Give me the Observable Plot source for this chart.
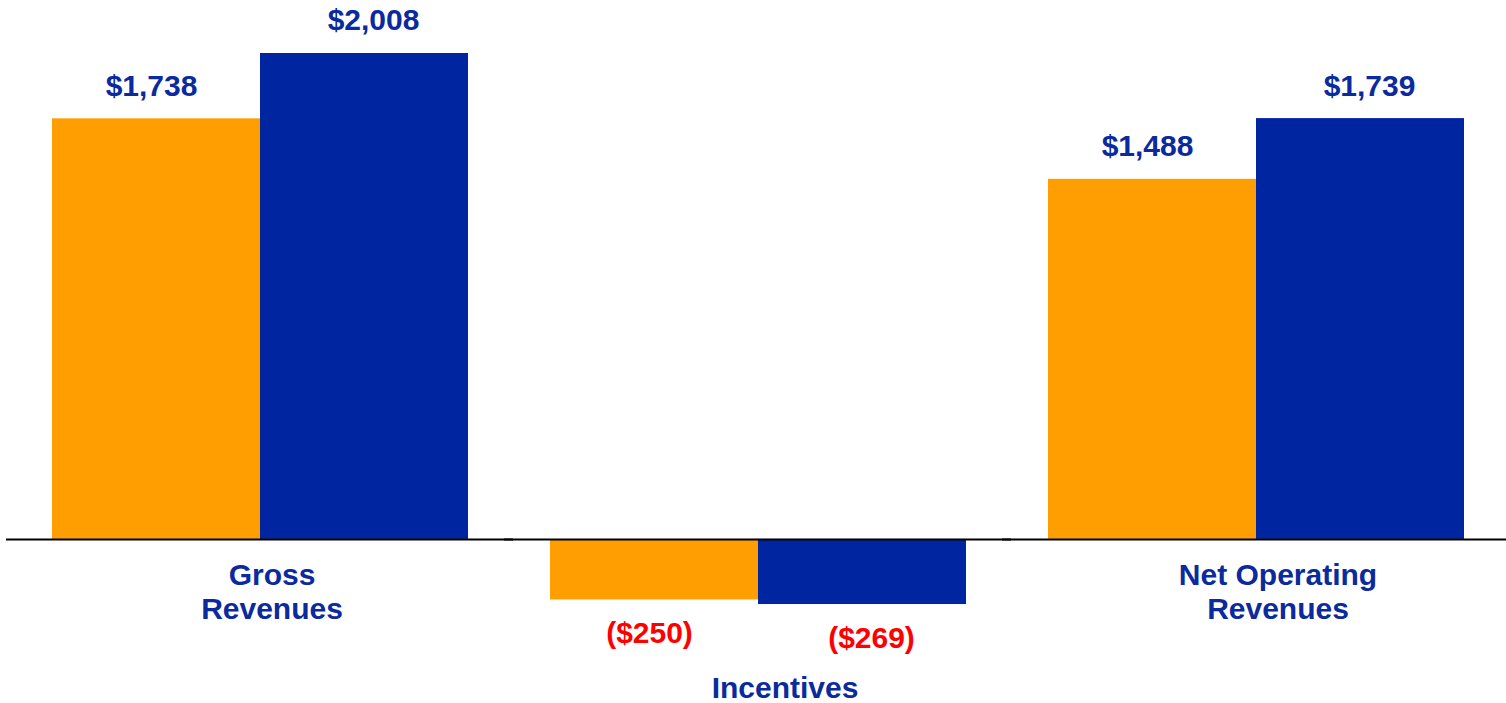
<!DOCTYPE html>
<html>
<head>
<meta charset="utf-8">
<script src="https://cdn.jsdelivr.net/npm/d3@7"></script>
<script src="https://cdn.jsdelivr.net/npm/@observablehq/plot@0.6"></script>
<style>
  html, body { margin: 0; padding: 0; background: #fff; }
  svg { display: block; overflow: visible; }
</style>
</head>
<body>
<div id="chart"></div>
<script>
const categories = ["Gross\nRevenues", "Incentives", "Net Operating\nRevenues"];
const series = ["Prior", "Current"];
const priorValues = [1738, -250, 1488];
const currentValues = [2008, -269, 1739];
const valueLabels = [["$1,738", "($250)", "$1,488"], ["$2,008", "($269)", "$1,739"]];

const colors = {Prior: "#FF9E00", Current: "#0025A0"};
const seriesShift = {Prior: -5, Current: 9};
const categoryShift = [12, 27, 22];

const rows = [];
categories.forEach((c, i) => {
  rows.push({category: c, series: "Prior", value: priorValues[i], label: valueLabels[0][i]});
  rows.push({category: c, series: "Current", value: currentValues[i], label: valueLabels[1][i]});
});
const pos = rows.filter(d => d.value >= 0);
const neg = rows.filter(d => d.value < 0);
const catRows = categories.map((c, i) => ({category: c, neg: priorValues[i] < 0 || currentValues[i] < 0, shift: categoryShift[i]}));

const font = "'Liberation Sans', Arial, sans-serif";

const chart = Plot.plot({
  width: 1506,
  height: 703,
  marginTop: 0,
  marginBottom: 0,
  marginLeft: 10,
  marginRight: 0,
  style: {fontFamily: font, background: "#fff"},
  fx: {domain: categories, paddingInner: 0.162, paddingOuter: 0.082, axis: null, label: null},
  x: {domain: series, padding: 0, axis: null, label: null},
  y: {domain: [-678, 2227], axis: null, label: null},
  color: {domain: series, range: series.map(s => colors[s])},
  marks: [
    Plot.barY(rows, {fx: "category", x: "series", y: "value", fill: "series"}),
    Plot.ruleY([0], {stroke: "#000", strokeWidth: 2, insetLeft: -45, insetRight: -45}),
    ...series.map(s => Plot.text(pos.filter(d => d.series === s), {
      fx: "category", x: "series", y: "value", text: "label",
      lineAnchor: "bottom", dy: -23, dx: seriesShift[s],
      fill: "#0A2A9E", fontSize: 30, fontWeight: "bold", fontFamily: font
    })),
    ...series.map(s => Plot.text(neg.filter(d => d.series === s), {
      fx: "category", x: "series", y: "value", text: "label",
      lineAnchor: "bottom", dy: 43, dx: seriesShift[s],
      fill: "#FF0000", fontSize: 30, fontWeight: "bold", fontFamily: font
    })),
    ...catRows.map(r => Plot.text([r], {
      fx: "category", y: () => 0, text: "category",
      lineAnchor: "top", dy: r.neg ? 134 : 21, dx: r.shift, lineHeight: 1.15,
      fill: "#0A2A9E", fontSize: 30, fontWeight: "bold", fontFamily: font
    }))
  ]
});
document.getElementById("chart").appendChild(chart);
</script>
</body>
</html>
